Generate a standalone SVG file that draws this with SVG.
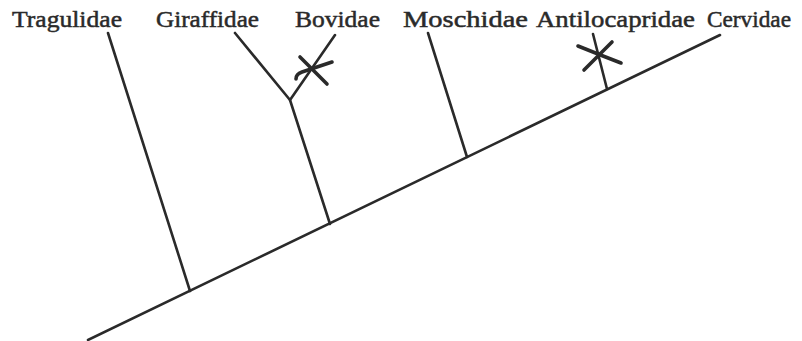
<svg xmlns="http://www.w3.org/2000/svg" width="802" height="341" viewBox="0 0 802 341">
<style>
text{font-family:"Liberation Serif","Times New Roman",serif;font-size:24px;fill:#2a2a2a;stroke:#2a2a2a;stroke-width:0.5}
.ln{stroke:#2a2a2a;stroke-width:2.6;fill:none;stroke-linecap:round;stroke-linejoin:round}
.mk{stroke:#2a2a2a;stroke-width:3.6;fill:none;stroke-linecap:round}
</style>
<rect width="802" height="341" fill="#fff"/>
<g id="labels">
<g id="Tragulidae"><text x="12" y="27" textLength="110" lengthAdjust="spacingAndGlyphs">Tragulidae</text></g>
<g id="Giraffidae"><text x="156" y="27" textLength="103" lengthAdjust="spacingAndGlyphs">Giraffidae</text></g>
<g id="Bovidae"><text x="295" y="27" textLength="85" lengthAdjust="spacingAndGlyphs">Bovidae</text></g>
<g id="Moschidae"><text x="403" y="27" textLength="125" lengthAdjust="spacingAndGlyphs">Moschidae</text></g>
<g id="Antilocapridae"><text x="536" y="27" textLength="159" lengthAdjust="spacingAndGlyphs">Antilocapridae</text></g>
<g id="Cervidae"><text x="707" y="27" textLength="84" lengthAdjust="spacingAndGlyphs">Cervidae</text></g>
</g>
<g id="connectors">
<line class="ln" x1="88" y1="340" x2="720" y2="35"/>
<line class="ln" x1="108" y1="33" x2="190" y2="291"/>
<polyline class="ln" points="235,33 290,100 335,35"/>
<line class="ln" x1="290" y1="100" x2="330" y2="224"/>
<line class="ln" x1="428" y1="33" x2="467" y2="157"/>
<line class="ln" x1="593" y1="34" x2="607" y2="89"/>
</g>
<g id="extinction-marks">
<path class="mk" d="M300,57 L327,84"/>
<path class="mk" d="M296,79 Q296,74 302,72 L332,62"/>
<path class="mk" d="M578,46 L603,56 L621,63"/>
<path class="mk" d="M584,70 L612,42"/>
</g>
</svg>
